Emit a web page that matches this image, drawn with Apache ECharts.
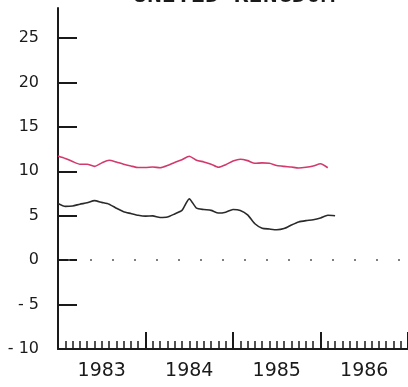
<!DOCTYPE html>
<html>
<head>
<meta charset="utf-8">
<script src="https://cdn.jsdelivr.net/npm/echarts@6/dist/echarts.min.js"></script>
<style>
  html, body { margin: 0; padding: 0; background: #ffffff; }
  #chart { width: 408px; height: 387px; }
</style>
</head>
<body>
<div id="chart"></div>
<script>
// Monthly readings, January 1983 onward (month index 0 = Jan 1983)
const redSeries = [
  11.73, 11.45, 11.10, 10.80, 10.80, 10.55, 10.95, 11.25, 11.05, 10.80, 10.60, 10.42,
  10.42, 10.48, 10.40, 10.65, 11.00, 11.30, 11.70, 11.25, 11.05, 10.80, 10.45, 10.75,
  11.15, 11.36, 11.20, 10.90, 10.95, 10.90, 10.65, 10.55, 10.48, 10.38, 10.45, 10.60,
  10.85, 10.40
];
const blackSeries = [
  6.38, 6.05, 6.10, 6.30, 6.45, 6.70, 6.50, 6.30, 5.85, 5.45, 5.25, 5.05,
  4.95, 4.98, 4.80, 4.85, 5.20, 5.60, 6.90, 5.85, 5.70, 5.60, 5.30, 5.40,
  5.70, 5.60, 5.10, 4.10, 3.60, 3.50, 3.42, 3.55, 3.95, 4.30, 4.45, 4.55,
  4.75, 5.05, 5.00
];
const yTickValues = [-10, -5, 0, 5, 10, 15, 20, 25];
const yearLabels = ['1983', '1984', '1985', '1986'];
const titleText = 'UNITED KINGDOM';

const toPairs = arr => arr.map((v, i) => [i, v]);
const yearLabelPositions = yearLabels.map((_, i) => i * 12 + 6);
const yBase = yTickValues[0];

const ink = '#1a1a1a';
const chart = echarts.init(document.getElementById('chart'), null, { renderer: 'canvas' });

chart.setOption({
  animation: false,
  backgroundColor: '#ffffff',
  graphic: [{
    type: 'text',
    x: 234,
    y: 8,
    style: {
      text: titleText,
      textAlign: 'center',
      textVerticalAlign: 'bottom',
      font: 'bold 24px "DejaVu Sans Mono"',
      fill: ink
    }
  }],
  grid: { left: 58, right: 0, top: 8, bottom: 38 },
  // one time axis: year ticks, monthly minor ticks, year labels centred mid-year
  xAxis: {
    type: 'value',
    min: 0,
    max: 48,
    interval: 12,
    splitLine: { show: false },
    minorSplitLine: { show: false },
    axisLine: { show: true, onZero: false, lineStyle: { color: ink, width: 2 } },
    axisTick: { show: true, inside: true, length: 17, lineStyle: { color: ink, width: 2 } },
    minorTick: { show: true, splitNumber: 12, length: 8, lineStyle: { color: ink, width: 1.5 } },
    axisLabel: {
      show: true,
      customValues: yearLabelPositions,
      formatter: v => yearLabels[Math.round((v - 6) / 12)] || '',
      margin: 13,
      fontSize: 19,
      fontFamily: 'DejaVu Sans',
      color: ink
    }
  },
  yAxis: {
    type: 'value',
    min: yBase,
    max: 28.38,
    splitLine: { show: false },
    axisLine: { show: true, onZero: false, lineStyle: { color: ink, width: 2 } },
    axisTick: {
      show: true, inside: true, length: 19,
      customValues: yTickValues,
      lineStyle: { color: ink, width: 2 }
    },
    axisLabel: {
      customValues: yTickValues,
      formatter: v => (v < 0 ? '- ' + Math.abs(v) : String(v)),
      margin: 19,
      fontSize: 16,
      fontFamily: 'DejaVu Sans',
      color: ink,
      padding: [0, 0, 8, 0]
    }
  },
  series: [
    {
      type: 'line',
      data: toPairs(redSeries),
      showSymbol: false,
      smooth: 0.2,
      lineStyle: { color: '#d23a6c', width: 1.6 },
      silent: true,
      // dotted zero reference
      markLine: {
        silent: true,
        symbol: 'none',
        label: { show: false },
        lineStyle: { color: '#555555', width: 1.5, type: [2, 20], dashOffset: 12 },
        data: [{ yAxis: 0 }]
      }
    },
    {
      type: 'line',
      data: toPairs(blackSeries),
      showSymbol: false,
      smooth: 0.2,
      lineStyle: { color: '#2a2a2a', width: 1.6 },
      silent: true,
      // solid baseline at the bottom of the scale
      markLine: {
        silent: true,
        symbol: 'none',
        label: { show: false },
        lineStyle: { color: ink, width: 2, type: 'solid' },
        data: [{ yAxis: yBase }]
      }
    }
  ]
});
</script>
</body>
</html>
